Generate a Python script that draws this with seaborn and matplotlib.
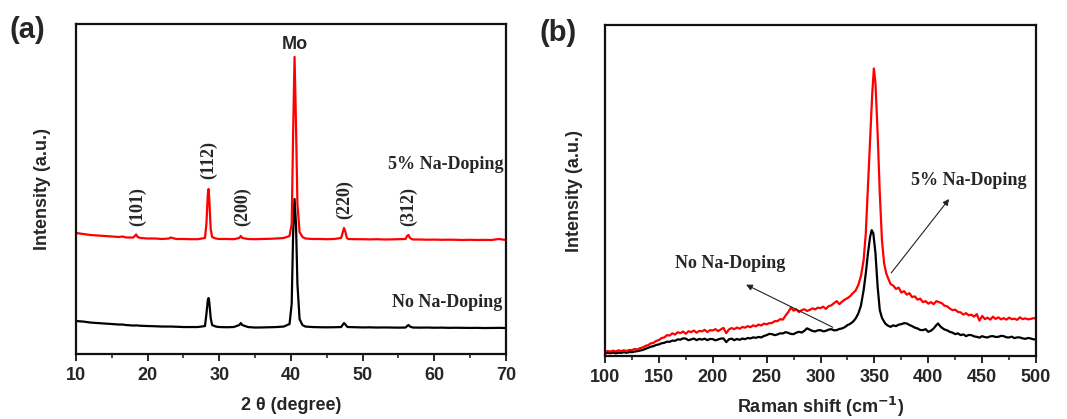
import numpy as np
import pandas as pd
import matplotlib
matplotlib.use("Agg")
import matplotlib.pyplot as plt
import seaborn as sns
from matplotlib.ticker import MultipleLocator

# ---- (a) XRD data ----
xrd_theta = [10, 11, 12, 13, 14, 15, 16, 16.5, 17, 18, 18.2, 18.4, 18.6, 19, 20, 21, 22, 23, 23.2,
             24, 25, 26, 27, 28, 28.2, 28.4, 28.5, 28.6, 28.8, 29, 29.5, 30, 31, 32, 32.8, 33, 33.2,
             34, 35, 36, 37, 38, 39, 39.8, 40.1, 40.3, 40.5, 40.7, 40.9, 41.2, 41.6, 42, 43, 44, 45,
             46, 47, 47.2, 47.4, 47.6, 47.8, 48, 49, 50, 51, 52, 53, 54, 55, 56, 56.2, 56.4, 56.6,
             57, 58, 59, 60, 61, 62, 63, 64, 65, 66, 67, 68, 69, 70]
xrd_na5 = [121, 120, 119, 118.5, 118, 117.5, 117, 117.5, 116.5, 116.5, 118, 119.5, 117, 116, 115.5,
           115.5, 115, 115.5, 116.5, 115, 115, 114.8, 114.8, 116, 130, 160, 165, 155, 125, 117,
           115.5, 115, 115, 114.8, 116, 118, 116, 115, 114.8, 115, 115.2, 115.5, 116, 118, 130,
           220, 297, 230, 150, 122, 117, 115.5, 115, 115, 114.8, 115, 116, 121, 126, 122, 116,
           115, 114.8, 114.8, 114.6, 114.8, 114.5, 114.6, 114.8, 115, 118, 119, 116, 114.5,
           114.5, 114.3, 114.4, 114.2, 114.3, 114.2, 114, 114.2, 114, 114.1, 114, 115, 114]
xrd_na0 = [33, 32.5, 31.5, 31, 30.5, 30, 29.5, 29.5, 29, 28.5, 28.5, 28.7, 28.5, 28.3, 28, 27.8,
           27.5, 27.5, 27.5, 27.3, 27, 27, 27, 28, 40, 54, 56, 52, 36, 29, 27.5, 27, 26.8, 27, 29,
           31, 29, 27, 26.5, 26.6, 26.8, 27, 27.5, 30, 50, 120, 155, 130, 70, 35, 29, 27.5, 27,
           26.8, 26.7, 26.8, 27, 29, 31, 29.5, 27.5, 27, 26.8, 26.6, 26.7, 26.5, 26.6, 26.5,
           26.4, 26.5, 28, 29, 27.5, 26.5, 26.4, 26.5, 26.3, 26.4, 26.2, 26.3, 26.2, 26.1, 26.2,
           26, 26.1, 26.2, 26]
xrd_peaks = ["(101)", "(112)", "(200)", "(220)", "(312)"]
xrd_peak_pos = [18.6, 28.5, 33.2, 47.5, 56.4]
xrd_label_y = [147, 194, 147, 154, 147]

# ---- (b) Raman data: (shift, intensity) ----
raman_na5 = [
    (100, 4.3), (102.5, 5.2), (105, 4.5), (107.5, 5.5), (110, 4.7), (112.5, 5.8), (115, 5.0),
    (117.5, 5.9), (120, 5.1), (122.5, 6.2), (125, 6.0), (127.5, 7.2), (130, 6.7), (132.5, 8.0),
    (135, 8.6), (137.5, 10.2), (140, 11.0), (142.5, 12.8), (145, 13.3), (147.5, 15.2), (150, 16.0),
    (152.5, 18.1), (155, 18.7), (157.5, 21.0), (160, 20.6), (162.5, 22.8), (165, 21.6),
    (167.5, 23.9), (170, 23.0), (172.5, 24.6), (175, 22.4), (177.5, 24.9), (180, 24.0),
    (182.5, 25.6), (185, 23.5), (187.5, 25.2), (190, 24.8), (192.5, 26.3), (195, 24.1),
    (197.5, 26.0), (200, 25.7), (202.5, 27.0), (205, 25.0), (207.5, 26.8), (210, 28.2),
    (212.5, 23.0), (215, 26.7), (217.5, 28.1), (220, 27.0), (222.5, 28.6), (225, 27.4),
    (227.5, 29.2), (230, 28.5), (232.5, 30.0), (235, 29.0), (237.5, 30.8), (240, 29.8),
    (242.5, 31.6), (245, 30.7), (247.5, 32.5), (250, 31.8), (252.5, 33.0), (255, 33.2),
    (257.5, 35.0), (260, 35.0), (262.5, 37.0), (265, 36.5), (267.5, 40.5), (270, 44.0),
    (272.5, 48.5), (275, 45.5), (277.5, 46.8), (280, 44.0), (282.5, 46.0), (285, 46.9),
    (287.5, 45.2), (290, 46.3), (292.5, 47.8), (295, 46.8), (297.5, 48.5), (300, 48.0),
    (302.5, 49.5), (305, 47.2), (307.5, 50.0), (310, 50.8), (312.5, 53.0), (315, 55.0),
    (317.5, 52.0), (320, 54.5), (322.5, 56.5), (325, 58.0), (327.5, 60.0), (330, 63.0),
    (332.5, 65.5), (335, 71.0), (337.5, 80.0), (340, 96), (342, 122.7), (344, 169.3), (346, 216),
    (348, 262.7), (349.5, 287.7), (351, 272.7), (353, 222.7), (355, 162.7), (357, 116),
    (359, 92.7), (361, 82.7), (362.5, 78.5), (365, 72.0), (367.5, 70.5), (370, 67.2),
    (372.5, 68.5), (375, 63.5), (377.5, 65.0), (380, 61.5), (382.5, 63.0), (385, 59.0),
    (387.5, 59.8), (390, 56.5), (392.5, 57.5), (395, 54.0), (397.5, 55.0), (400, 52.5),
    (402.5, 54.0), (405, 52.0), (407.5, 55.0), (410, 54.0), (412.5, 53.0), (415, 50.5),
    (417.5, 49.8), (420, 47.5), (422.5, 46.0), (425, 46.5), (427.5, 44.2), (430, 43.8),
    (432.5, 41.5), (435, 43.0), (437.5, 40.8), (440, 41.5), (442.5, 39.5), (445, 42.0),
    (447.5, 35.5), (450, 40.2), (452.5, 37.0), (455, 38.5), (457.5, 36.5), (460, 39.5),
    (462.5, 37.2), (465, 38.8), (467.5, 36.8), (470, 38.0), (472.5, 36.5), (475, 38.5),
    (477.5, 37.0), (480, 37.5), (482.5, 36.3), (485, 38.8), (487.5, 37.0), (490, 37.8),
    (492.5, 36.8), (495, 37.2), (497.5, 38.0), (500, 37.5)]
raman_na0 = [
    (100, 2.7), (102.5, 3.4), (105, 3.0), (107.5, 3.6), (110, 2.8), (112.5, 3.5), (115, 3.3),
    (117.5, 3.9), (120, 3.4), (122.5, 4.1), (125, 4.0), (127.5, 4.6), (130, 5.0), (132.5, 5.6),
    (135, 6.2), (137.5, 7.3), (140, 8.3), (142.5, 9.4), (145, 10.0), (147.5, 11.2), (150, 11.7),
    (152.5, 12.9), (155, 13.3), (157.5, 14.5), (160, 14.3), (162.5, 15.6), (165, 15.3),
    (167.5, 16.8), (170, 16.5), (172.5, 17.8), (175, 17.5), (177.5, 15.9), (180, 16.8),
    (182.5, 17.6), (185, 16.0), (187.5, 17.3), (190, 16.5), (192.5, 17.5), (195, 16.0),
    (197.5, 17.2), (200, 17.0), (202.5, 15.8), (205, 16.7), (207.5, 17.6), (210, 17.7),
    (212.5, 14.0), (215, 16.8), (217.5, 17.5), (220, 16.0), (222.5, 17.2), (225, 16.3),
    (227.5, 17.6), (230, 17.0), (232.5, 18.2), (235, 17.7), (237.5, 18.8), (240, 18.3),
    (242.5, 19.2), (245, 18.7), (247.5, 20.2), (250, 21.0), (252.5, 22.3), (255, 22.0),
    (257.5, 21.0), (260, 21.7), (262.5, 22.8), (265, 22.7), (267.5, 24.0), (270, 23.3),
    (272.5, 22.2), (275, 22.0), (277.5, 23.5), (280, 24.3), (282.5, 23.6), (285, 25.3),
    (287.5, 27.8), (290, 26.5), (292.5, 25.2), (295, 24.7), (297.5, 25.8), (300, 26.0),
    (302.5, 24.8), (305, 25.3), (307.5, 26.5), (310, 27.0), (312.5, 25.8), (315, 26.0),
    (317.5, 27.2), (320, 27.7), (322.5, 29.0), (325, 31.0), (327.5, 32.3), (330, 34.3),
    (332.5, 37.5), (335, 42.5), (337.5, 50.5), (340, 66), (342, 82.7), (344, 102.7),
    (346, 119.3), (347.5, 126), (349, 122.7), (351, 102.7), (353, 69.3), (355, 46), (357, 38.3),
    (360, 32.7), (362.5, 30.5), (365, 29.3), (367.5, 30.8), (370, 30.0), (372.5, 31.5),
    (375, 32.0), (377.5, 33.0), (380, 32.7), (382.5, 31.2), (385, 30.0), (387.5, 28.5),
    (390, 27.7), (392.5, 26.2), (395, 26.0), (397.5, 27.0), (400, 24.3), (402.5, 25.5),
    (405, 27.7), (407.5, 31.0), (409, 32.7), (411, 30.0), (412.5, 28.5), (415, 26.7),
    (417.5, 25.8), (420, 24.3), (422.5, 23.5), (425, 22.0), (427.5, 22.8), (430, 21.0),
    (432.5, 21.8), (435, 20.0), (437.5, 21.2), (440, 21.0), (442.5, 19.8), (445, 19.3),
    (447.5, 18.5), (450, 20.0), (452.5, 19.0), (455, 18.7), (457.5, 19.8), (460, 20.0),
    (462.5, 19.2), (465, 19.3), (467.5, 20.3), (470, 20.0), (472.5, 18.8), (475, 18.7),
    (477.5, 19.5), (480, 18.0), (482.5, 18.8), (485, 18.7), (487.5, 17.8), (490, 17.3),
    (492.5, 18.2), (495, 17.7), (497.5, 16.8), (500, 16.7)]

sns.set_style("ticks")
plt.rcParams['font.family'] = ['Liberation Sans', 'DejaVu Sans']
plt.rcParams['axes.linewidth'] = 1.6
plt.rcParams['xtick.major.width'] = 1.4
plt.rcParams['xtick.minor.width'] = 1.2

fig = plt.figure(figsize=(10.67, 4.19), dpi=100)
ax1 = fig.add_axes([0.0712, 0.155, 0.403, 0.788])
ax2 = fig.add_axes([0.567, 0.150, 0.404, 0.790])

serif = {'family': ['Liberation Serif', 'DejaVu Serif'], 'weight': 'bold', 'size': 13}
colors = {'No': 'black', '5%': '#ff0000'}

# (a)
df_a = pd.DataFrame({'theta': xrd_theta * 2,
                     'I': xrd_na0 + xrd_na5,
                     'sample': ['No'] * len(xrd_theta) + ['5%'] * len(xrd_theta)})
sns.lineplot(data=df_a, x='theta', y='I', hue='sample', palette=colors,
             linewidth=1.6, legend=False, ax=ax1, estimator=None, sort=False)
ax1.set_xlim(10, 70)
ax1.set_ylim(0, 330)
ax1.xaxis.set_major_locator(MultipleLocator(10))
ax1.xaxis.set_minor_locator(MultipleLocator(5))
ax1.set_yticks([])
ax1.set_xlabel('2 θ (degree)', fontsize=13, fontweight='bold', labelpad=10)
ax1.set_ylabel('Intensity (a.u.)', fontsize=13, fontweight='bold', labelpad=18)
for lab, xp, yp in zip(xrd_peaks, xrd_peak_pos, xrd_label_y):
    ax1.text(xp, yp, lab, rotation=90, ha='center', va='center', fontdict=serif)
ax1.text(40.5, 309, 'Mo', ha='center', va='center', fontsize=13, fontweight='bold')
ax1.text(69.6, 189, '5% Na-Doping', ha='right', va='center', fontdict=serif)
ax1.text(69.5, 52, 'No Na-Doping', ha='right', va='center', fontdict=serif)

# (b)
r0x, r0y = zip(*raman_na0)
r5x, r5y = zip(*raman_na5)
df_b = pd.DataFrame({'shift': list(r0x) + list(r5x),
                     'I': list(r0y) + list(r5y),
                     'sample': ['No'] * len(r0x) + ['5%'] * len(r5x)})
sns.lineplot(data=df_b, x='shift', y='I', hue='sample', palette=colors,
             linewidth=1.6, legend=False, ax=ax2, estimator=None, sort=False)
ax2.set_xlim(100, 500)
ax2.set_ylim(0, 331)
ax2.xaxis.set_major_locator(MultipleLocator(50))
ax2.xaxis.set_minor_locator(MultipleLocator(25))
ax2.set_yticks([])
ax2.set_xlabel('Raman shift (cm$^{\\mathbf{-1}}$)', fontsize=13, fontweight='bold', labelpad=7)
ax2.set_ylabel('Intensity (a.u.)', fontsize=13, fontweight='bold', labelpad=16)
ax2.annotate('', xy=(228.6, 72.7), xytext=(313.6, 27.7),
             arrowprops=dict(arrowstyle='-|>', color='#222222', lw=0.8, mutation_scale=9))
ax2.annotate('', xy=(420.9, 159.3), xytext=(364, 81),
             arrowprops=dict(arrowstyle='-|>', color='#222222', lw=0.8, mutation_scale=9))
ax2.text(216, 92.7, 'No Na-Doping', ha='center', va='center', fontdict=serif)
ax2.text(438, 176, '5% Na-Doping', ha='center', va='center', fontdict=serif)

for ax in (ax1, ax2):
    ax.tick_params(axis='x', which='major', direction='out', length=5, labelsize=13, pad=4)
    ax.tick_params(axis='x', which='minor', direction='out', length=3)
    for t in ax.get_xticklabels():
        t.set_fontweight('bold')
    for s in ax.spines.values():
        s.set_visible(True)
        s.set_color('#111111')

fig.text(0.009, 0.928, '(a)', fontsize=21, fontweight='bold', va='center', ha='left')
fig.text(0.506, 0.921, '(b)', fontsize=21, fontweight='bold', va='center', ha='left')

fig.savefig('out.png', dpi=100)
